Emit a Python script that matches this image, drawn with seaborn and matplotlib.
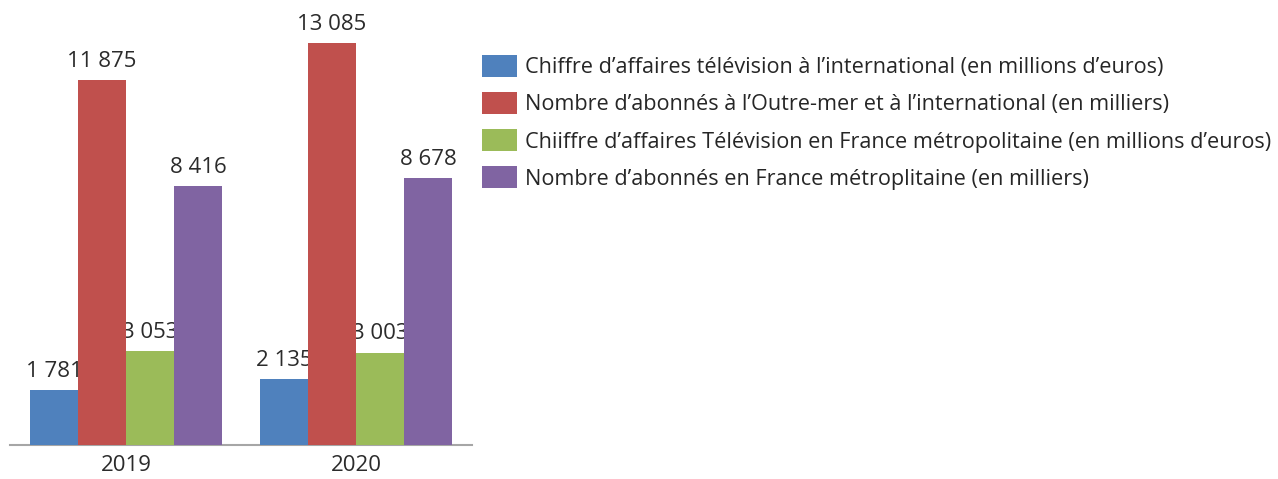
import matplotlib
matplotlib.use("Agg")
import matplotlib.pyplot as plt
from matplotlib.patches import Patch
import seaborn as sns
import pandas as pd

# Data
years = ["2019", "2020"]
series = [
    "Chiffre d\u2019affaires télévision à l\u2019international (en millions d\u2019euros)",
    "Nombre d\u2019abonnés à l\u2019Outre-mer et à l\u2019international (en milliers)",
    "Chiiffre d\u2019affaires Télévision en France métropolitaine (en millions d\u2019euros)",
    "Nombre d\u2019abonnés en France métroplitaine (en milliers)",
]
ca_international = [1781, 2135]
abonnes_international = [11875, 13085]
ca_france = [3053, 3003]
abonnes_france = [8416, 8678]
colors = ["#4F81BD", "#C0504D", "#9BBB59", "#8064A2"]

all_values = [ca_international, abonnes_international, ca_france, abonnes_france]
rows = []
for name, vals in zip(series, all_values):
    for year, v in zip(years, vals):
        rows.append({"Année": year, "Série": name, "Valeur": v})
df = pd.DataFrame(rows)

sns.set_theme(style="white")
plt.rcParams["font.family"] = ["Open Sans", "DejaVu Sans"]

W, H = 1278, 479
fig = plt.figure(figsize=(W / 100, H / 100), dpi=100)
ax = fig.add_axes([10 / W, 34 / H, 462 / W, 435 / H])

sns.barplot(
    data=df, x="Année", y="Valeur", hue="Série", hue_order=series,
    palette=colors, width=0.835, saturation=1, ax=ax, legend=False,
    zorder=3, linewidth=0,
)

text_color = "#2b2b2b"
for container, vals in zip(ax.containers, all_values):
    for bar, v in zip(container, vals):
        label = f"{v:,}".replace(",", " ")
        ax.text(bar.get_x() + bar.get_width() / 2, v + 270, label,
                ha="center", va="bottom", fontsize=16, color=text_color,
                zorder=2)

ax.set_ylim(0, 14159)
ax.set_xlim(-0.504, 1.504)
ax.set_xlabel("")
ax.set_ylabel("")
ax.set_yticks([])
ax.tick_params(axis="x", length=0, pad=7, labelsize=16, labelcolor=text_color)
for side in ["top", "left", "right"]:
    ax.spines[side].set_visible(False)
ax.spines["bottom"].set_color("#A6A6A6")
ax.spines["bottom"].set_linewidth(1.5)

handles = [Patch(facecolor=c, edgecolor="none") for c in colors]
fs = 15.6
px = fs * 100 / 72
fig.legend(
    handles, series, loc="upper left", bbox_to_anchor=(482 / W, 1 - 55 / H),
    frameon=False, fontsize=fs, handlelength=35 / px,
    handleheight=26 / px, handletextpad=8 / px,
    labelspacing=0.63, labelcolor="#262626",
    borderaxespad=0, borderpad=0,
)

fig.savefig("out.png", dpi=100)
